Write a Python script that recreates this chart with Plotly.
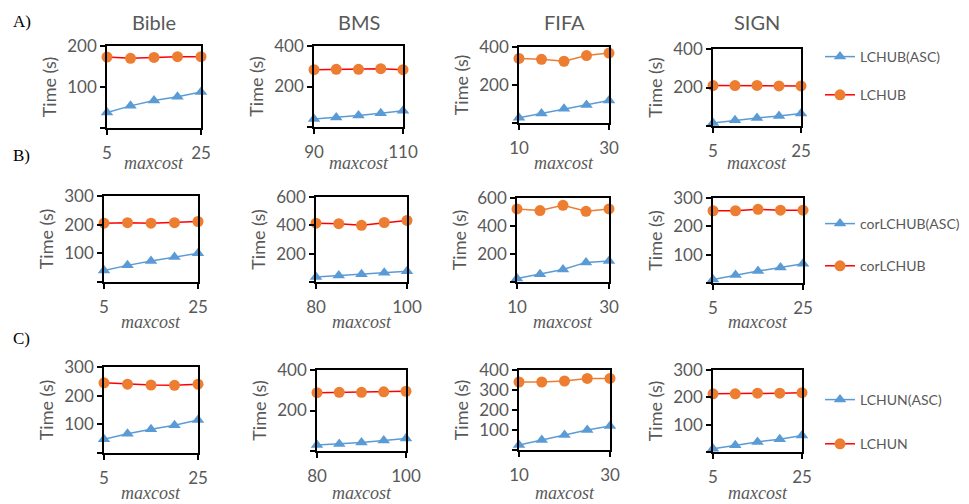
import plotly.graph_objects as go

# The page body has an 8px default margin; build the figure 8px smaller and
# express every pixel position relative to that offset.
OFF = 8
W, H = 969 - OFF, 504 - OFF

# ---------------- data ----------------
datasets = ["Bible", "BMS", "FIFA", "SIGN"]
row_labels = ["A)", "B)", "C)"]

x_bible = [5, 10, 15, 20, 25]
x_bms_a = [90, 95, 100, 105, 110]
x_bms_bc = [80, 85, 90, 95, 100]
x_fifa = [10, 15, 20, 25, 30]
x_sign = [5, 10, 15, 20, 25]

# Row A: LCHUB(ASC) / LCHUB
a_names = ["LCHUB(ASC)", "LCHUB"]
a_bible_asc = [38, 54, 67, 76, 88]
a_bible = [173, 170, 172, 174, 174]
a_bms_asc = [40, 47, 57, 68, 80]
a_bms = [283, 285, 285, 288, 283]
a_fifa_asc = [28, 50, 75, 95, 118]
a_fifa = [340, 335, 325, 355, 368]
a_sign_asc = [15, 30, 42, 52, 65]
a_sign = [210, 210, 211, 208, 208]

# Row B: corLCHUB(ASC) / corLCHUB
b_names = ["corLCHUB(ASC)", "corLCHUB"]
b_bible_asc = [40, 58, 73, 87, 100]
b_bible = [205, 207, 205, 207, 211]
b_bms_asc = [35, 45, 55, 65, 75]
b_bms = [415, 412, 400, 420, 435]
b_fifa_asc = [25, 55, 90, 140, 150]
b_fifa = [522, 510, 548, 505, 522]
b_sign_asc = [12, 28, 42, 55, 68]
b_sign = [255, 255, 260, 257, 257]

# Row C: LCHUN(ASC) / LCHUN
c_names = ["LCHUN(ASC)", "LCHUN"]
c_bible_asc = [48, 67, 83, 97, 115]
c_bible = [245, 240, 237, 236, 240]
c_bms_asc = [30, 35, 42, 52, 62]
c_bms = [288, 290, 290, 292, 295]
c_fifa_asc = [25, 50, 75, 100, 120]
c_fifa = [340, 340, 345, 358, 358]
c_sign_asc = [12, 25, 37, 47, 60]
c_sign = [213, 213, 215, 215, 217]

# y tick values per panel
yt_a = [[0, 100, 200], [0, 200, 400], [0, 200, 400], [0, 200, 400]]
yt_b = [[0, 100, 200, 300], [0, 200, 400, 600], [0, 200, 400, 600], [0, 100, 200, 300]]
yt_c = [[0, 100, 200, 300], [0, 200, 400], [0, 100, 200, 300, 400], [0, 100, 200, 300]]

rows = [
    dict(names=a_names, xs=[x_bible, x_bms_a, x_fifa, x_sign],
         asc=[a_bible_asc, a_bms_asc, a_fifa_asc, a_sign_asc],
         main=[a_bible, a_bms, a_fifa, a_sign], yt=yt_a),
    dict(names=b_names, xs=[x_bible, x_bms_bc, x_fifa, x_sign],
         asc=[b_bible_asc, b_bms_asc, b_fifa_asc, b_sign_asc],
         main=[b_bible, b_bms, b_fifa, b_sign], yt=yt_b),
    dict(names=c_names, xs=[x_bible, x_bms_bc, x_fifa, x_sign],
         asc=[c_bible_asc, c_bms_asc, c_fifa_asc, c_sign_asc],
         main=[c_bible, c_bms, c_fifa, c_sign], yt=yt_c),
]

# ---------------- layout geometry (pixels in the page) ----------------
boxes = [
    [(107, 201, 46, 128), (314, 403, 46, 127), (519, 609, 47, 123), (713, 801, 49, 126)],
    [(104, 198, 196, 282), (316, 407, 197, 282), (517, 609, 198, 282), (713, 803, 198, 283)],
    [(104, 198, 367, 453), (317, 406, 370, 451), (519, 610, 370, 450), (713, 802, 370, 452)],
]
maxcost_y = [163, 322, 493]
row_label_y = [22, 155, 338]
legend_top = [41, 208, 384]
legend_gap = [17, 21, 23]
legend_keys = ["legend", "legend2", "legend3"]


def px(x):
    return (x - OFF) / W


def py(y):
    return 1 - (y - OFF) / H


BLUE = "#5B9BD5"
ORANGE = "#ED7D31"
RED = "#FF0000"
GRAY = "#595959"
SANS = "Lato"

fig = go.Figure()
layout = dict(width=W, height=H, margin=dict(l=0, r=0, t=0, b=0, autoexpand=False),
              template="none",
              paper_bgcolor="white", plot_bgcolor="white", showlegend=True)
annotations = []

k = 0
for r, row in enumerate(rows):
    for c in range(4):
        k += 1
        xa = "x" if k == 1 else f"x{k}"
        ya = "y" if k == 1 else f"y{k}"
        xk = "xaxis" if k == 1 else f"xaxis{k}"
        yk = "yaxis" if k == 1 else f"yaxis{k}"
        x0, x1, y0, y1 = boxes[r][c]
        xs = row["xs"][c]
        main_line = ORANGE if datasets[c] == "FIFA" else RED
        is_leg = (c == 3)
        fig.add_trace(go.Scatter(
            x=xs, y=row["asc"][c], name=row["names"][0], xaxis=xa, yaxis=ya,
            mode="lines+markers", cliponaxis=False,
            line=dict(color=BLUE, width=1.5),
            marker=dict(symbol="triangle-up", size=11, color=BLUE),
            showlegend=is_leg, legend=legend_keys[r], legendgroup=f"g{r}a"))
        fig.add_trace(go.Scatter(
            x=xs, y=row["main"][c], name=row["names"][1], xaxis=xa, yaxis=ya,
            mode="lines+markers", cliponaxis=False,
            line=dict(color=main_line, width=1.5),
            marker=dict(symbol="circle", size=11, color=ORANGE),
            showlegend=is_leg, legend=legend_keys[r], legendgroup=f"g{r}b"))
        yt = row["yt"][c]
        layout[xk] = dict(
            domain=[px(x0), px(x1)], anchor=ya, range=[xs[0], xs[-1]], automargin=False,
            tickvals=[xs[0], xs[-1]], ticks="outside", ticklen=5, tickwidth=1.5,
            tickcolor="black", showline=True, mirror=True, linecolor="black",
            linewidth=1.5, showgrid=False, zeroline=False,
            tickfont=dict(family=SANS, size=17, color=GRAY), ticklabelstandoff=4)
        layout[yk] = dict(
            domain=[py(y1), py(y0)], anchor=xa, range=[yt[0], yt[-1]],
            automargin=False,
            tickvals=yt, ticktext=[""] + [str(v) for v in yt[1:]],
            ticks="outside", ticklen=5, tickwidth=1.5, tickcolor="black",
            showline=True, mirror=True, linecolor="black", linewidth=1.5,
            showgrid=False, zeroline=False,
            tickfont=dict(family=SANS, size=17, color=GRAY),
            title=dict(text="Time (s)", font=dict(family=SANS, size=18, color=GRAY),
                       standoff=6))
        annotations.append(dict(
            text="<i>maxcost</i>", x=px((x0 + x1) / 2), y=py(maxcost_y[r]),
            xref="paper", yref="paper", showarrow=False, xanchor="center", yanchor="middle",
            font=dict(family="Liberation Serif", size=18, color=GRAY)))
        if r == 0:
            annotations.append(dict(
                text=datasets[c], x=px((x0 + x1) / 2), y=py(21.5),
                xref="paper", yref="paper", showarrow=False,
                xanchor="center", yanchor="middle",
                font=dict(family=SANS, size=20, color=GRAY)))
    annotations.append(dict(
        text=row_labels[r], x=px(11), y=py(row_label_y[r]), xref="paper", yref="paper",
        showarrow=False, xanchor="left", yanchor="middle",
        font=dict(family="Liberation Serif", size=17, color="black")))
    layout[legend_keys[r]] = dict(
        x=px(820), y=py(legend_top[r]), xanchor="left", yanchor="top",
        font=dict(family=SANS, size=14, color=GRAY), tracegroupgap=legend_gap[r],
        bgcolor="rgba(0,0,0,0)", itemwidth=30)

layout["annotations"] = annotations
fig.update_layout(**layout)
fig.write_html("out.html")
